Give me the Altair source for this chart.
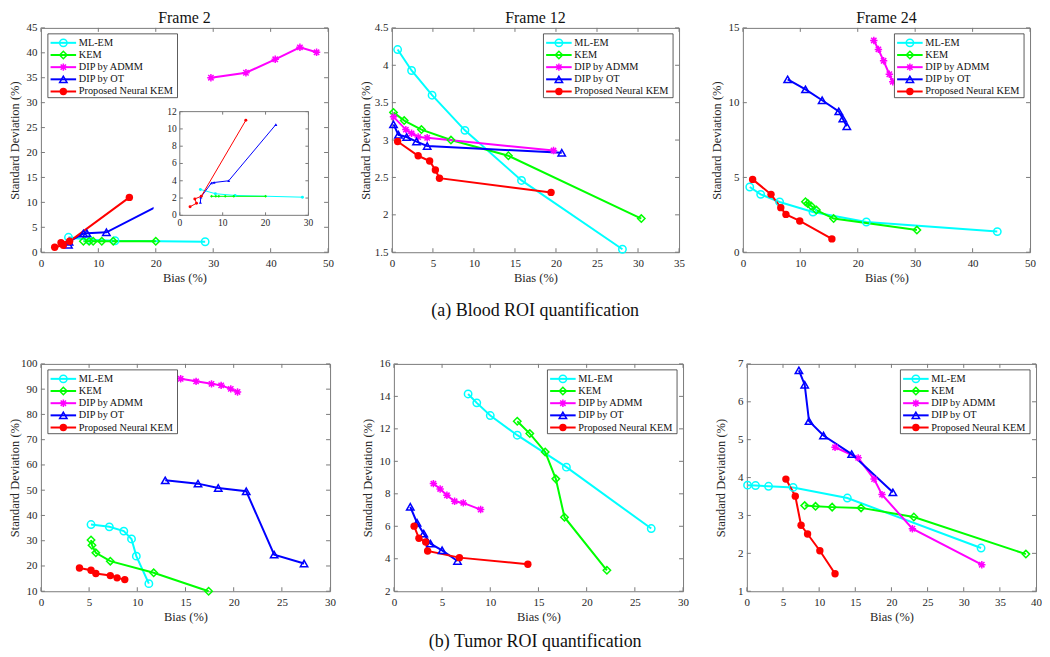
import altair as alt
import pandas as pd

FONT = "Liberation Serif"
AX = "#7a7a7a"
TXT = "#262626"
FMT = ".6~g"

SERIES = ["ML-EM", "KEM", "DIP by ADMM", "DIP by OT", "Proposed Neural KEM"]
COLORS = ["#00FFFF", "#00FF00", "#FF00FF", "#0000FF", "#FF0000"]
ASTER = "M-1,0L1,0M0,-1L0,1M-0.72,-0.72L0.72,0.72M-0.72,0.72L0.72,-0.72"
SHAPES = ["circle", "diamond", ASTER, "triangle-up", "circle"]
SIZES = [55, 55, 32, 70, 30]
STROKES = [1.5, 1.5, 1.5, 2.0, 1.0]

# ---------------- Blood ROI, Frame 2 ----------------
B2_MLEM_X = [4.8, 8.3, 12.9, 28.6]
B2_MLEM_Y = [3.0, 2.5, 2.3, 2.1]
B2_KEM_X = [7.4, 8.4, 9.1, 10.6, 12.6, 20.0]
B2_KEM_Y = [2.2, 2.2, 2.2, 2.2, 2.2, 2.2]
B2_ADMM_X = [29.6, 35.7, 40.8, 45.1, 48.0]
B2_ADMM_Y = [35.0, 36.0, 38.7, 41.1, 40.1]
B2_OT_X = [4.8, 4.9, 7.4, 8.0, 11.4, 22.4]
B2_OT_Y = [1.5, 2.1, 3.75, 3.8, 4.0, 10.5]
B2_NK_X = [2.4, 3.9, 3.5, 5.0, 15.4]
B2_NK_Y = [1.0, 1.4, 1.9, 2.2, 11.0]

# ---------------- Blood ROI, Frame 12 ----------------
B12_MLEM_X = [0.7, 2.4, 4.9, 8.9, 15.8, 28.1]
B12_MLEM_Y = [4.21, 3.93, 3.60, 3.13, 2.46, 1.54]
B12_KEM_X = [0.2, 1.5, 3.6, 7.2, 14.2, 30.4]
B12_KEM_Y = [3.37, 3.26, 3.14, 3.00, 2.79, 1.95]
B12_ADMM_X = [0.2, 1.7, 2.4, 3.2, 4.3, 19.7]
B12_ADMM_Y = [3.31, 3.14, 3.09, 3.04, 3.03, 2.86]
B12_OT_X = [0.2, 0.8, 1.8, 3.0, 4.3, 20.7]
B12_OT_Y = [3.21, 3.07, 3.04, 2.98, 2.92, 2.83]
B12_NK_X = [0.7, 3.2, 4.6, 5.3, 5.8, 19.4]
B12_NK_Y = [2.98, 2.79, 2.72, 2.60, 2.49, 2.30]

# ---------------- Blood ROI, Frame 24 ----------------
B24_MLEM_X = [1.2, 3.1, 6.4, 12.2, 21.5, 44.3]
B24_MLEM_Y = [4.36, 3.87, 3.36, 2.69, 2.02, 1.38]
B24_KEM_X = [10.9, 11.3, 11.9, 12.8, 15.8, 30.3]
B24_KEM_Y = [3.38, 3.25, 3.09, 2.82, 2.25, 1.48]
B24_ADMM_X = [22.8, 23.6, 24.5, 25.5, 26.1]
B24_ADMM_Y = [14.16, 13.56, 12.8, 11.9, 11.4]
B24_OT_X = [7.8, 10.9, 13.8, 16.7, 17.4, 18.1]
B24_OT_Y = [11.56, 10.89, 10.16, 9.42, 8.93, 8.42]
B24_NK_X = [1.7, 4.9, 6.6, 7.5, 9.9, 15.5]
B24_NK_Y = [4.87, 3.87, 2.98, 2.53, 2.09, 0.89]

# ---------------- Tumor ROI, Frame 2 ----------------
T2_MLEM_X = [5.2, 7.1, 8.6, 9.4, 9.9, 11.2]
T2_MLEM_Y = [36.4, 35.5, 33.8, 30.7, 23.9, 13.0]
T2_KEM_X = [5.2, 5.3, 5.7, 7.2, 11.7, 17.4]
T2_KEM_Y = [30.3, 28.2, 25.2, 21.9, 17.3, 10.0]
T2_ADMM_X = [14.5, 16.1, 17.7, 18.7, 19.7, 20.4]
T2_ADMM_Y = [94.1, 93.1, 92.1, 91.5, 90.1, 88.9]
T2_OT_X = [12.9, 16.3, 18.4, 21.3, 24.2, 27.3]
T2_OT_Y = [53.9, 52.6, 50.9, 49.6, 24.5, 21.0]
T2_NK_X = [4.0, 5.2, 5.7, 7.2, 7.9, 8.7]
T2_NK_Y = [19.2, 18.3, 17.0, 16.2, 15.3, 14.6]

# ---------------- Tumor ROI, Frame 12 ----------------
T12_MLEM_X = [7.7, 8.6, 10.0, 12.8, 17.9, 26.7]
T12_MLEM_Y = [14.15, 13.6, 12.82, 11.61, 9.64, 5.86]
T12_KEM_X = [12.8, 14.1, 15.7, 16.8, 17.7, 22.1]
T12_KEM_Y = [12.47, 11.71, 10.58, 8.92, 6.56, 3.29]
T12_ADMM_X = [4.1, 4.8, 5.5, 6.3, 7.2, 9.0]
T12_ADMM_Y = [8.63, 8.30, 7.91, 7.54, 7.44, 7.03]
T12_OT_X = [1.7, 2.4, 3.1, 3.8, 5.0, 6.6]
T12_OT_Y = [7.2, 6.22, 5.55, 4.93, 4.52, 3.86]
T12_NK_X = [2.1, 2.6, 3.3, 3.5, 6.8, 13.9]
T12_NK_Y = [6.01, 5.26, 5.03, 4.48, 4.07, 3.66]

# ---------------- Tumor ROI, Frame 24 ----------------
T24_MLEM_X = [0.1, 1.2, 3.0, 6.4, 13.9, 32.4]
T24_MLEM_Y = [3.80, 3.79, 3.77, 3.74, 3.46, 2.14]
T24_KEM_X = [8.0, 9.5, 11.8, 15.8, 23.1, 38.6]
T24_KEM_Y = [3.26, 3.24, 3.22, 3.20, 2.96, 1.98]
T24_ADMM_X = [12.2, 15.4, 17.6, 18.7, 22.9, 32.5]
T24_ADMM_Y = [4.80, 4.52, 3.96, 3.55, 2.65, 1.70]
T24_OT_X = [7.2, 8.0, 8.6, 10.6, 14.5, 20.2]
T24_OT_Y = [6.83, 6.45, 5.49, 5.11, 4.62, 3.61]
T24_NK_X = [5.4, 6.7, 7.5, 8.4, 10.1, 12.2]
T24_NK_Y = [3.96, 3.51, 2.74, 2.51, 2.07, 1.46]

# axis ticks
B2_XT, B2_YT = [0, 10, 20, 30, 40, 50], [0, 5, 10, 15, 20, 25, 30, 35, 40, 45]
B12_XT, B12_YT = [0, 5, 10, 15, 20, 25, 30, 35], [1.5, 2, 2.5, 3, 3.5, 4, 4.5]
B24_XT, B24_YT = [0, 10, 20, 30, 40, 50], [0, 5, 10, 15]
T2_XT, T2_YT = [0, 5, 10, 15, 20, 25, 30], [10, 20, 30, 40, 50, 60, 70, 80, 90, 100]
T12_XT, T12_YT = [0, 5, 10, 15, 20, 25, 30], [2, 4, 6, 8, 10, 12, 14, 16]
T24_XT, T24_YT = [0, 5, 10, 15, 20, 25, 30, 35, 40], [1, 2, 3, 4, 5, 6, 7]
INSET_XT, INSET_YT = [0, 10, 20, 30], [0, 2, 4, 6, 8, 10, 12]

COLOR = alt.Color("series:N", scale=alt.Scale(domain=SERIES, range=COLORS), legend=None)
SHAPE = alt.Shape("series:N", scale=alt.Scale(domain=SERIES, range=SHAPES), legend=None)
SIZE = alt.Size("series:N", scale=alt.Scale(domain=SERIES, range=SIZES), legend=None)
SW = alt.StrokeWidth("series:N", scale=alt.Scale(domain=SERIES, range=STROKES), legend=None)


def make_df(groups):
    rows = []
    for s, xs, ys in groups:
        for i, (a, b) in enumerate(zip(xs, ys)):
            rows.append({"series": s, "bias": a, "std": b, "idx": i})
    return pd.DataFrame(rows)


def series_layers(df, X, Y, lw=2.0, small=False):
    base = alt.Chart(df)
    lines = base.mark_line(strokeWidth=lw).encode(X, Y, color=COLOR, order=alt.Order("idx:Q"))
    if small:
        pts = base.mark_point(filled=True, size=9, opacity=1).encode(X, Y, color=COLOR, shape=SHAPE)
        return [lines, pts]
    hollow = base.transform_filter(alt.datum.series != SERIES[4]).mark_point(
        filled=False, opacity=1).encode(X, Y, color=COLOR, shape=SHAPE, size=SIZE, strokeWidth=SW)
    solid = base.transform_filter(alt.datum.series == SERIES[4]).mark_point(
        filled=True, opacity=1).encode(X, Y, color=COLOR, shape=SHAPE, size=SIZE)
    return [lines, hollow, solid]


def legend_layer(w, left):
    bw, bh, top = 130, 64, 6
    bx = 7 if left else w - 6 - bw
    ldf = pd.DataFrame({"series": SERIES})
    LY = alt.Y("series:N", axis=None,
               scale=alt.Scale(type="point", domain=SERIES, range=[top + 9, top + 9 + 4 * 12.2], padding=0))
    box = alt.Chart(alt.Data(values=[{}])).mark_rect(fill="white", stroke="#333", strokeWidth=0.8).encode(
        x=alt.value(bx), x2=alt.value(bx + bw), y=alt.value(top), y2=alt.value(top + bh))
    base = alt.Chart(ldf)
    segs = base.mark_rule(strokeWidth=2).encode(x=alt.value(bx + 2.7), x2=alt.value(bx + 28.3), y=LY, color=COLOR)
    hollow = base.transform_filter(alt.datum.series != SERIES[4]).mark_point(filled=False, opacity=1).encode(
        x=alt.value(bx + 15.5), y=LY, color=COLOR, shape=SHAPE, size=SIZE, strokeWidth=SW)
    solid = base.transform_filter(alt.datum.series == SERIES[4]).mark_point(filled=True, opacity=1).encode(
        x=alt.value(bx + 15.5), y=LY, color=COLOR, shape=SHAPE, size=SIZE)
    text = base.mark_text(align="left", baseline="middle", font=FONT, fontSize=10.3, color="#111").encode(
        x=alt.value(bx + 31), y=LY, text="series:N")
    return alt.layer(box, segs, hollow, solid, text)


def inset_layer(df):
    xr = [139.3, 268.3]
    yr = [188, 84]
    xs = alt.Scale(domain=[0, 30], range=xr, nice=False, zero=False)
    ys = alt.Scale(domain=[0, 12], range=yr, nice=False, zero=False)
    X = alt.X("bias:Q", scale=xs, axis=None)
    Y = alt.Y("std:Q", scale=ys, axis=None)
    bg = alt.Chart(alt.Data(values=[{}])).mark_rect(fill="white").encode(
        x=alt.value(113), x2=alt.value(274), y=alt.value(74), y2=alt.value(206))
    frame = alt.Chart(alt.Data(values=[{"bias": 0, "bias2": 30, "std": 0, "std2": 12}])).mark_rect(
        fill="transparent", stroke=AX, strokeWidth=1).encode(X, x2="bias2:Q", y=Y, y2="std2:Q")
    xt = pd.DataFrame({"bias": INSET_XT})
    yt = pd.DataFrame({"std": INSET_YT})
    xlab = alt.Chart(xt).mark_text(baseline="top", font=FONT, fontSize=9.5, color=TXT).encode(
        X, y=alt.value(yr[0] + 3), text=alt.Text("bias:Q", format=FMT))
    ylab = alt.Chart(yt).mark_text(align="right", baseline="middle", font=FONT, fontSize=9.5, color=TXT).encode(
        Y, x=alt.value(xr[0] - 3), text=alt.Text("std:Q", format=FMT))
    xtb = alt.Chart(xt).mark_rule(color=AX).encode(X, y=alt.value(yr[0]), y2=alt.value(yr[0] - 3))
    xtt = alt.Chart(xt).mark_rule(color=AX).encode(X, y=alt.value(yr[1]), y2=alt.value(yr[1] + 3))
    ytl = alt.Chart(yt).mark_rule(color=AX).encode(Y, x=alt.value(xr[0]), x2=alt.value(xr[0] + 3))
    ytr = alt.Chart(yt).mark_rule(color=AX).encode(Y, x=alt.value(xr[1]), x2=alt.value(xr[1] - 3))
    idf = df[df["series"] != "DIP by ADMM"]
    return alt.layer(bg, frame, xtb, xtt, ytl, ytr, xlab, ylab, *series_layers(idf, X, Y, lw=1.0, small=True))


def panel(groups, xdom, ydom, xt, yt, w, h, left_legend, title=None, inset=False):
    df = make_df(groups)
    xs = alt.Scale(domain=xdom, nice=False, zero=False)
    ys = alt.Scale(domain=ydom, nice=False, zero=False)
    xax = alt.Axis(values=xt, format=FMT, title="Bias (%)", ticks=False, domain=False, grid=False,
                   labelFlush=False, labelOverlap=False, labelPadding=5, titlePadding=3)
    yax = alt.Axis(values=yt, format=FMT, title="Standard Deviation (%)", ticks=False, domain=False,
                   grid=False, labelOverlap=False, labelPadding=4, minExtent=19, maxExtent=19,
                   titlePadding=0)
    X = alt.X("bias:Q", scale=xs, axis=xax)
    Y = alt.Y("std:Q", scale=ys, axis=yax)
    xtd = pd.DataFrame({"bias": xt})
    ytd = pd.DataFrame({"std": yt})
    ticks = [
        alt.Chart(xtd).mark_rule(color=AX).encode(X, y=alt.value(h), y2=alt.value(h - 4)),
        alt.Chart(xtd).mark_rule(color=AX).encode(X, y=alt.value(0), y2=alt.value(4)),
        alt.Chart(ytd).mark_rule(color=AX).encode(Y, x=alt.value(0), x2=alt.value(4)),
        alt.Chart(ytd).mark_rule(color=AX).encode(Y, x=alt.value(w), x2=alt.value(w - 4)),
    ]
    main = alt.layer(*ticks, *series_layers(df, X, Y))
    parts = [main, legend_layer(w, left_legend)]
    if inset:
        parts.append(inset_layer(df))
    ch = alt.layer(*parts).resolve_scale(x="independent", y="independent").properties(width=w, height=h)
    if title:
        ch = ch.properties(title=alt.TitleParams(title, fontSize=16, font=FONT, fontWeight="normal",
                                                 color="#111", offset=-4, anchor="middle"))
    return ch


def groups(prefix):
    g = globals()
    return [(s, g[f"{prefix}_{k}_X"], g[f"{prefix}_{k}_Y"])
            for s, k in zip(SERIES, ["MLEM", "KEM", "ADMM", "OT", "NK"])]


TW, TH = 288, 225
BW, BH = 290, 228

p1 = panel(groups("B2"), [0, 50], [0, 45], B2_XT, B2_YT, TW, TH, True, "Frame 2", inset=True)
p2 = panel(groups("B12"), [0, 35], [1.5, 4.5], B12_XT, B12_YT, TW, TH, False, "Frame 12")
p3 = panel(groups("B24"), [0, 50], [0, 15], B24_XT, B24_YT, TW, TH, False, "Frame 24")
p4 = panel(groups("T2"), [0, 30], [10, 100], T2_XT, T2_YT, BW, BH, True)
p5 = panel(groups("T12"), [0, 30], [2, 16], T12_XT, T12_YT, BW, BH, False)
p6 = panel(groups("T24"), [0, 40], [1, 7], T24_XT, T24_YT, BW, BH, False)

cap = dict(orient="bottom", anchor="middle", fontSize=18, font=FONT, fontWeight="normal", color="#111")
top = alt.hconcat(p1, p2, p3, spacing=64, bounds="flush",
                  title=alt.TitleParams("(a) Blood ROI quantification", offset=18, dx=13, **cap))
bottom = alt.hconcat(p4, p5, p6, spacing=64, bounds="flush",
                     title=alt.TitleParams("(b) Tumor ROI quantification", offset=10, dx=10, **cap))

chart = alt.vconcat(top, bottom, spacing=337, bounds="flush").properties(
    padding={"left": 0, "top": 0, "right": 0, "bottom": 0}
).configure_view(stroke=AX, strokeWidth=1).configure_axis(
    labelFont=FONT, titleFont=FONT, labelFontSize=11, titleFontSize=12.5,
    labelColor=TXT, titleColor=TXT, titleFontWeight="normal"
).configure_title(font=FONT, fontWeight="normal")

chart.save("out.html", embed_options={"renderer": "svg", "actions": False})
